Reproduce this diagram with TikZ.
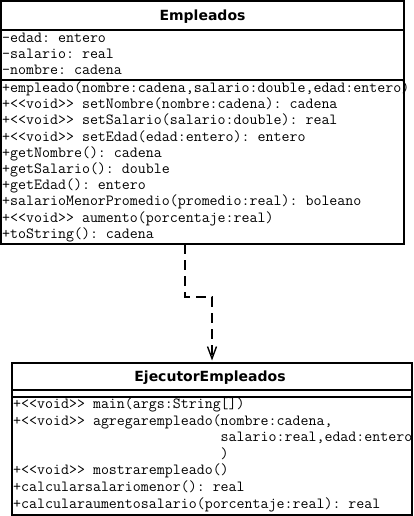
\documentclass[tikz,border=0pt]{standalone}
\usepackage{fontspec}
\newfontfamily\umltitle{DejaVu Sans}
\usetikzlibrary{positioning, arrows.meta, calc}

\begin{document}
\begin{tikzpicture}[
  x=1pt, y=-1pt,
  umlbox/.style={draw=black, line width=1.8pt, fill=white, inner sep=0pt,
                 outer sep=0pt, anchor=north west},
  title/.style={font=\umltitle\bfseries\fontsize{14}{16}\selectfont,
                anchor=base, inner sep=0pt},
  member/.style={font=\ttfamily\fontsize{15.5}{16}\selectfont\frenchspacing,
                 anchor=base west, inner sep=0pt},
  sep/.style={line width=1.8pt},
  dep/.style={line width=1.5pt, dash pattern=on 10pt off 6pt,
              -{Straight Barb[length=12pt, width=9pt, line width=1.4pt]},
              shorten >=2.5pt}
]
  \useasboundingbox (0,0) rectangle (414,516);

  % class boxes
  \node[umlbox, minimum width=403pt, minimum height=243pt] (emp) at (1,1) {};
  \node[umlbox, minimum width=400pt, minimum height=152pt] (ejec) at (12,363) {};

  % compartments
  \draw[sep] (emp.west |- 0,30) -- (emp.east |- 0,30);
  \draw[sep] (emp.west |- 0,80) -- (emp.east |- 0,80);
  \draw[sep] (ejec.west |- 0,390) -- (ejec.east |- 0,390);
  \draw[sep] (ejec.west |- 0,397) -- (ejec.east |- 0,397);

  % titles
  \node[title] (empT) at (202.5,20.5) {Empleados};
  \node[title] (ejecT) at (210,381) {EjecutorEmpleados};

  % Empleados attributes
  \foreach \txt [count=\i] in {-edad: entero, -salario: real, -nombre: cadena}{
    \node[member] (att\i) at (2,42.5+16*\i-16) {\txt};
  }
  % Empleados methods
  \foreach \txt [count=\i] in {
      {+empleado(nombre:cadena,salario:double,edad:entero)},
      {+<{}<void>{}> setNombre(nombre:cadena): cadena},
      {+<{}<void>{}> setSalario(salario:double): real},
      {+<{}<void>{}> setEdad(edad:entero): entero},
      {+getNombre(): cadena},
      {+getSalario(): double},
      {+getEdad(): entero},
      {+salarioMenorPromedio(promedio:real): boleano},
      {+<{}<void>{}> aumento(porcentaje:real)},
      {+toString(): cadena}}{
    \node[member] (met\i) at (2,92.5+16.2*\i-16.2) {\txt};
  }

  % EjecutorEmpleados methods
  \foreach \txt [count=\i] in {
      {+<{}<void>{}> main(args:String[])},
      {+<{}<void>{}> agregarempleado(nombre:cadena,},
      {\phantom{+<{}<void>{}> agregarempleado(}salario:real,edad:entero},
      {\phantom{+<{}<void>{}> agregarempleado(})},
      {+<{}<void>{}> mostrarempleado()},
      {+calcularsalariomenor(): real},
      {+calcularaumentosalario(porcentaje:real): real}}{
    \node[member] (ops\i) at (13,408.5+16.6*\i-16.6) {\txt};
  }

  % dependency
  \draw[dep] ([xshift=-17.5pt]emp.south) -- ++(0,53) -| (ejec.north);
\end{tikzpicture}
\end{document}
